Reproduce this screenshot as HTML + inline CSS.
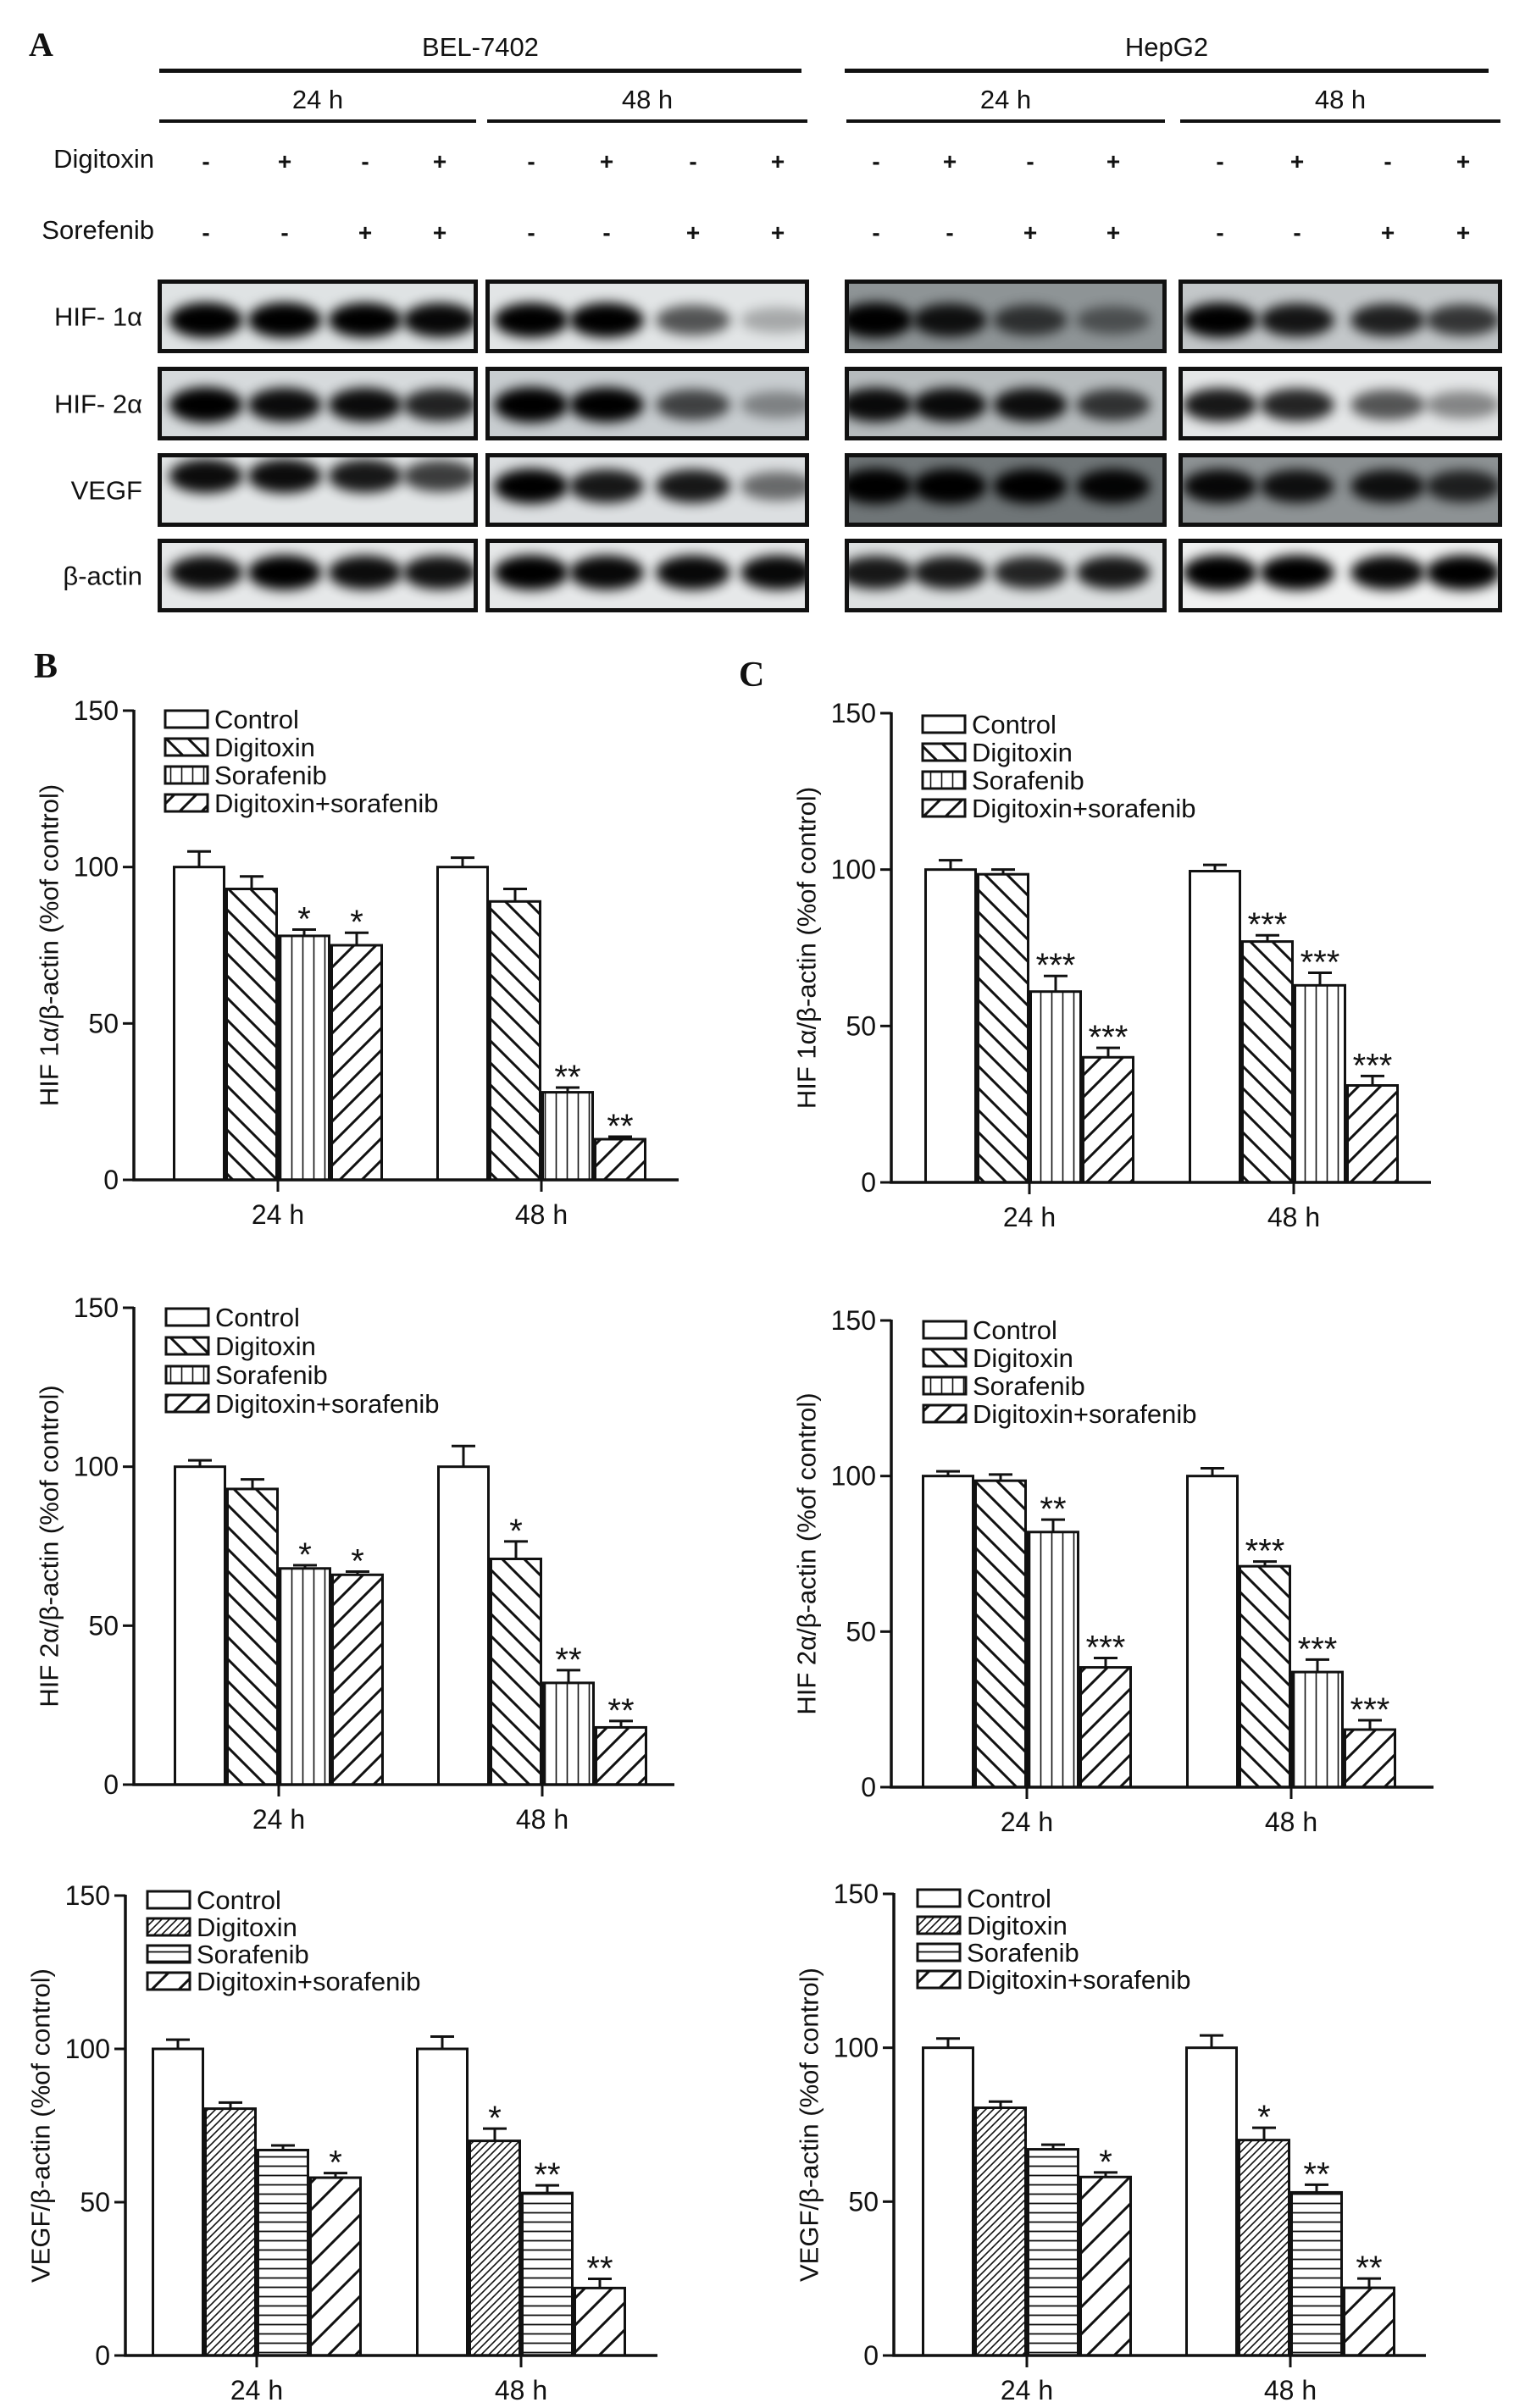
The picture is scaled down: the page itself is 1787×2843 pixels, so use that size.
<!DOCTYPE html>
<html><head><meta charset="utf-8">
<style>
html,body{margin:0;padding:0;background:#fff;}
svg{display:block;}
text{font-family:"Liberation Sans",Arial,sans-serif;fill:#111;}
</style></head>
<body>
<svg id="fig" xmlns="http://www.w3.org/2000/svg" width="1787" height="2843" viewBox="0 0 1787 2843">
<defs>
  <filter id="blur" x="-30%" y="-80%" width="160%" height="260%"><feGaussianBlur stdDeviation="7"/></filter>
  <pattern id="p-back" patternUnits="userSpaceOnUse" width="26" height="26"><path d="M-6,-6 L32,32 M-6,20 L6,32 M20,-6 L32,6" stroke="#111" stroke-width="3"/></pattern>
  <pattern id="p-fwd" patternUnits="userSpaceOnUse" width="26" height="26"><path d="M-6,32 L32,-6 M-6,6 L6,-6 M20,32 L32,20" stroke="#111" stroke-width="3"/></pattern>
  <pattern id="p-vert" patternUnits="userSpaceOnUse" width="13" height="13"><path d="M6.5,0 L6.5,13" stroke="#111" stroke-width="1.6"/></pattern>
  <pattern id="p-fine" patternUnits="userSpaceOnUse" width="9" height="9"><path d="M-2,11 L11,-2 M-2,2 L2,-2 M7,11 L11,7" stroke="#111" stroke-width="1.6"/></pattern>
  <pattern id="p-horiz" patternUnits="userSpaceOnUse" width="11" height="11"><path d="M0,5.5 L11,5.5" stroke="#111" stroke-width="1.8"/></pattern>
  <pattern id="p-wide" patternUnits="userSpaceOnUse" width="32" height="32"><path d="M-6,38 L38,-6 M-6,6 L6,-6 M26,38 L38,26" stroke="#111" stroke-width="3"/></pattern>
</defs>
<g id="root"></g>
</svg>
<script>
// ---------- Chart data (values in % of control) ----------
const groups = ["24 h", "48 h"];
const seriesNames = ["Control", "Digitoxin", "Sorafenib", "Digitoxin+sorafenib"];
const yTicks = [0, 50, 100, 150];

const b1Values = [[100, 93, 78, 75], [100, 89, 28, 13]];
const b1Errors = [[5, 4, 2, 4], [3, 4, 1.5, 0.8]];
const b1Stars  = [["", "", "*", "*"], ["", "", "**", "**"]];

const c1Values = [[100, 98.5, 61, 40], [99.5, 77, 63, 31]];
const c1Errors = [[3, 1.5, 5, 3], [2, 2, 4, 3]];
const c1Stars  = [["", "", "***", "***"], ["", "***", "***", "***"]];

const b2Values = [[100, 93, 68, 66], [100, 71, 32, 18]];
const b2Errors = [[2, 3, 1, 1], [6.5, 5.5, 4, 2]];
const b2Stars  = [["", "", "*", "*"], ["", "*", "**", "**"]];

const c2Values = [[100, 98.5, 82, 38.5], [100, 71, 37, 18.5]];
const c2Errors = [[1.5, 2, 4, 3], [2.5, 1.5, 4, 3]];
const c2Stars  = [["", "", "**", "***"], ["", "***", "***", "***"]];

const b3Values = [[100, 80.5, 67, 58], [100, 70, 53, 22]];
const b3Errors = [[3, 2, 1.5, 1.5], [4, 4, 2.5, 3]];
const b3Stars  = [["", "", "", "*"], ["", "*", "**", "**"]];

const c3Values = [[100, 80.5, 67, 58], [100, 70, 53, 22]];
const c3Errors = [[3, 2, 1.5, 1.5], [4, 4, 2.5, 3]];
const c3Stars  = [["", "", "", "*"], ["", "*", "**", "**"]];

// ---------- Blot band intensities (lanes 1-4) ----------
const blotRows = ["HIF- 1\u03b1", "HIF- 2\u03b1", "VEGF", "\u03b2-actin"];
const bel24Bands = [[1, 1, 0.95, 0.92], [1, 0.9, 0.9, 0.8], [0.9, 0.9, 0.85, 0.7], [0.9, 0.95, 0.9, 0.88]];
const bel48Bands = [[0.95, 0.95, 0.6, 0.25], [1, 0.95, 0.65, 0.35], [0.95, 0.85, 0.85, 0.5], [0.95, 0.92, 0.92, 0.92]];
const hep24Bands = [[1, 0.85, 0.65, 0.45], [0.9, 0.9, 0.88, 0.7], [1, 1, 0.95, 0.92], [0.85, 0.85, 0.8, 0.85]];
const hep48Bands = [[0.95, 0.85, 0.8, 0.7], [0.85, 0.8, 0.6, 0.4], [0.9, 0.85, 0.85, 0.75], [1, 0.95, 0.92, 0.95]];
const digitoxinSigns = ["-", "+", "-", "+"];
const sorafenibSigns = ["-", "-", "+", "+"];

const NS = "http://www.w3.org/2000/svg";
const root = document.getElementById("root");
function mk(tag, attrs, parent, txt) {
  const e = document.createElementNS(NS, tag);
  for (const k in attrs) e.setAttribute(k, attrs[k]);
  if (txt !== undefined) e.textContent = txt;
  (parent || root).appendChild(e);
  return e;
}
const SERIF = "font-family:'Liberation Serif',serif;font-weight:bold;";

// ---------- Panel A: western blots ----------
const pA = mk("g", {});


let t = mk("text", {x: 34, y: 66, style: SERIF, "font-size": 40}, pA, "A");



const cells = [{name: "BEL-7402", x1: 188, x2: 946}, {name: "HepG2", x1: 997, x2: 1757}];
cells.forEach(c => {
  const tx = mk("text", {x: (c.x1 + c.x2) / 2, y: 66, "text-anchor": "middle", "font-size": 31}, pA, c.name);
  
  
  const ln = mk("rect", {x: c.x1, y: 81, width: c.x2 - c.x1, height: 5, fill: "#111"}, pA);
  
  
});

const blotPanels = [
  {label: "24 h", x1: 186, x2: 564, lanes: [243, 336, 431, 519], bands: bel24Bands, bg: ["#dfe3e4", "#d6dadc", "#e2e5e6", "#e6e8e9"]},
  {label: "48 h", x1: 573, x2: 955, lanes: [627, 716, 818, 918], bands: bel48Bands, bg: ["#e2e5e6", "#c8cdd0", "#dcdfe1", "#e6e8e9"]},
  {label: "24 h", x1: 997, x2: 1377, lanes: [1034, 1121, 1216, 1314], bands: hep24Bands, bg: ["#8e9496", "#b6bbbd", "#6f7577", "#dde0e1"]},
  {label: "48 h", x1: 1391, x2: 1773, lanes: [1440, 1531, 1638, 1727], bands: hep48Bands, bg: ["#c3c7c9", "#e4e6e7", "#8d9294", "#f0f1f1"]}
];
const rowTop = [330, 433, 535, 636];
const rowH = 87;
const bandY = [[378, 478, 562, 676], [378, 478, 574, 676]];

blotPanels.forEach((p, pi) => {
  const tx = mk("text", {x: (p.x1 + p.x2) / 2, y: 128, "text-anchor": "middle", "font-size": 31}, pA, p.label);
  
  
  const ln = mk("rect", {x: p.x1 + 2, y: 141, width: p.x2 - p.x1 - 4, height: 4, fill: "#111"}, pA);
  
  
  p.lanes.forEach((lx, li) => {
    const d = mk("text", {x: lx, y: 200, "text-anchor": "middle", "font-size": 28, "font-weight": "bold"}, pA, digitoxinSigns[li]);
    
    
    const s = mk("text", {x: lx, y: 284, "text-anchor": "middle", "font-size": 28, "font-weight": "bold"}, pA, sorafenibSigns[li]);
    
    
  });
  rowTop.forEach((ry, ri) => {
    const g = mk("g", {}, pA);
    
    
    const clipId = "clip" + pi + "_" + ri;
    const cp = mk("clipPath", {id: clipId}, g);
    mk("rect", {x: p.x1, y: ry, width: p.x2 - p.x1, height: rowH}, cp);
    const inner = mk("g", {"clip-path": "url(#" + clipId + ")"}, g);
    mk("rect", {x: p.x1, y: ry, width: p.x2 - p.x1, height: rowH, fill: p.bg[ri]}, inner);
    const laneW = (p.x2 - p.x1) / 4;
    p.bands[ri].forEach((v, li) => {
      const by = bandY[pi === 0 ? 0 : 1][ri];
      const b = mk("ellipse", {cx: p.lanes[li], cy: by, rx: laneW * 0.46, ry: 13 + 8 * v,
        fill: "#000", opacity: Math.min(1, v * 1.05), filter: "url(#blur)"}, inner);
      
      
    });
    mk("rect", {x: p.x1 + 2.5, y: ry + 2.5, width: p.x2 - p.x1 - 5, height: rowH - 5, fill: "none", stroke: "#111", "stroke-width": 5}, g);
  });
});
const labelY = [198, 282];
["Digitoxin", "Sorefenib"].forEach((lab, i) => {
  const tx = mk("text", {x: 182, y: labelY[i], "text-anchor": "end", "font-size": 31}, pA, lab);
  
  
});
blotRows.forEach((lab, i) => {
  const tx = mk("text", {x: 168, y: rowTop[i] + rowH / 2 + 11, "text-anchor": "end", "font-size": 31}, pA, lab);
  
  
});

// ---------- Bar charts ----------
function barChart(cfg) {
  const g = mk("g", {});
  
  
  const ax = cfg.ax, y0 = cfg.y0, y150 = cfg.y150;
  const yScale = v => y0 - (v / 150) * (y0 - y150);
  const bw = 62;
  const xBar = (gi, si) => ax + cfg.g0 + gi * (cfg.g1 - cfg.g0) + si * bw;
  cfg.values.forEach((grp, gi) => grp.forEach((v, si) => {
    const x = xBar(gi, si), y = yScale(v);
    const r = mk("rect", {x: x, y: y, width: bw, height: y0 - y, fill: "#fff", stroke: "none"}, g);
    
    
    if (cfg.patterns[si]) mk("rect", {x: x, y: y, width: bw, height: y0 - y, fill: "url(#" + cfg.patterns[si] + ")"}, g);
    mk("rect", {x: x + 1.5, y: y, width: bw - 3, height: y0 - y, fill: "none", stroke: "#111", "stroke-width": 3}, g);
    const e = cfg.errors[gi][si];
    const ye = yScale(v + e);
    const eb = mk("path", {d: "M" + (x + bw / 2) + "," + y + " L" + (x + bw / 2) + "," + ye + " M" + (x + bw / 2 - 14) + "," + ye + " L" + (x + bw / 2 + 14) + "," + ye, stroke: "#111", "stroke-width": 3, fill: "none"}, g);
    
    
    const st = cfg.stars[gi][si];
    if (st) {
      const s = mk("text", {x: x + bw / 2, y: ye + 1, "text-anchor": "middle", "font-size": 40, fill: "#333"}, g, st);
      
      
    }
  }));
  const axis = mk("path", {d: "M" + ax + "," + (y150 - 1) + " L" + ax + "," + y0 + " L" + (ax + cfg.xEnd) + "," + y0, stroke: "#111", "stroke-width": 3.5, fill: "none"}, g);
  
  
  yTicks.forEach(v => {
    const y = yScale(v);
    mk("line", {x1: ax - 13, y1: y, x2: ax, y2: y, stroke: "#111", "stroke-width": 3}, g);
    const tl = mk("text", {x: ax - 18, y: y + 11, "text-anchor": "end", "font-size": 32}, g, String(v));
    
    
  });
  groups.forEach((lab, gi) => {
    const cx = ax + cfg.g0 + gi * (cfg.g1 - cfg.g0) + 2 * bw;
    mk("line", {x1: cx, y1: y0, x2: cx, y2: y0 + 14, stroke: "#111", "stroke-width": 3}, g);
    const tl = mk("text", {x: cx, y: y0 + 52, "text-anchor": "middle", "font-size": 32}, g, lab);
    
    
  });
  const tcx = ax - 100, tcy = (y0 + y150) / 2;
  const yt = mk("text", {x: tcx, y: tcy, "text-anchor": "middle", "font-size": 31, transform: "rotate(-90 " + tcx + " " + tcy + ")", "dominant-baseline": "central"}, g, cfg.yTitle);
  
  
  seriesNames.forEach((n, si) => {
    const ly = y150 + cfg.legDy + si * cfg.legStep;
    const lx = ax + cfg.legDx;
    const le = mk("g", {}, g);
    
    
    mk("rect", {x: lx, y: ly - 10, width: 50, height: 20, fill: "#fff"}, le);
    if (cfg.patterns[si]) mk("rect", {x: lx, y: ly - 10, width: 50, height: 20, fill: "url(#" + cfg.patterns[si] + ")"}, le);
    mk("rect", {x: lx, y: ly - 10, width: 50, height: 20, fill: "none", stroke: "#111", "stroke-width": 3}, le);
    mk("text", {x: lx + 58, y: ly + 11, "font-size": 31}, le, n);
  });
}

const hifPat = [null, "p-back", "p-vert", "p-fwd"];
const vegfPat = [null, "p-fine", "p-horiz", "p-wide"];

barChart({name: "chart-b-hif1a", ax: 158, y0: 1393, y150: 839, g0: 46, g1: 357, xEnd: 643,
  values: b1Values, errors: b1Errors, stars: b1Stars, patterns: hifPat, yTitle: "HIF 1\u03b1/\u03b2-actin (%of control)", legDx: 37, legDy: 10, legStep: 33});
barChart({name: "chart-c-hif1a", ax: 1052, y0: 1396, y150: 842, g0: 39, g1: 351, xEnd: 637,
  values: c1Values, errors: c1Errors, stars: c1Stars, patterns: hifPat, yTitle: "HIF 1\u03b1/\u03b2-actin (%of control)", legDx: 37, legDy: 13, legStep: 33});
barChart({name: "chart-b-hif2a", ax: 158, y0: 2107, y150: 1544, g0: 47, g1: 358, xEnd: 638,
  values: b2Values, errors: b2Errors, stars: b2Stars, patterns: hifPat, yTitle: "HIF 2\u03b1/\u03b2-actin (%of control)", legDx: 38, legDy: 11, legStep: 34});
barChart({name: "chart-c-hif2a", ax: 1052, y0: 2110, y150: 1559, g0: 36, g1: 348, xEnd: 640,
  values: c2Values, errors: c2Errors, stars: c2Stars, patterns: hifPat, yTitle: "HIF 2\u03b1/\u03b2-actin (%of control)", legDx: 38, legDy: 11, legStep: 33});
barChart({name: "chart-b-vegf", ax: 148, y0: 2781, y150: 2238, g0: 31, g1: 343, xEnd: 628,
  values: b3Values, errors: b3Errors, stars: b3Stars, patterns: vegfPat, yTitle: "VEGF/\u03b2-actin (%of control)", legDx: 26, legDy: 5, legStep: 32});
barChart({name: "chart-c-vegf", ax: 1055, y0: 2781, y150: 2236, g0: 33, g1: 344, xEnd: 628,
  values: c3Values, errors: c3Errors, stars: c3Stars, patterns: vegfPat, yTitle: "VEGF/\u03b2-actin (%of control)", legDx: 28, legDy: 5, legStep: 32});

const lb = mk("text", {x: 40, y: 800, style: SERIF, "font-size": 42}, root, "B");


const lc = mk("text", {x: 872, y: 810, style: SERIF, "font-size": 42}, root, "C");


</script>
</body></html>
